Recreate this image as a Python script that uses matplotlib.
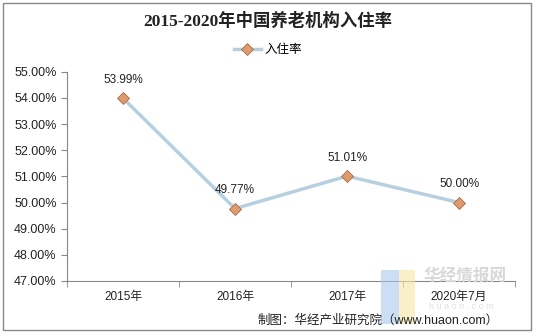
import matplotlib
matplotlib.use("Agg")
import matplotlib.pyplot as plt
from matplotlib.patches import Rectangle
from matplotlib.ticker import FuncFormatter, FixedLocator

plt.rcParams['font.family'] = ['Liberation Sans', 'Noto Sans CJK SC']

# 数据
categories = ['2015年', '2016年', '2017年', '2020年7月']
rates = [53.99, 49.77, 51.01, 50.00]
labels = ['53.99%', '49.77%', '51.01%', '50.00%']

fig = plt.figure(figsize=(5.36, 3.36), dpi=100)
ax = fig.add_axes([0.125, 0.1637, 0.836, 0.6226])

x = list(range(len(categories)))
ax.plot(x, rates, color='#b7d0e0', linewidth=2.5, marker='D', markersize=6,
        markerfacecolor='#de9c6e', markeredgecolor='#a86a45', markeredgewidth=0.6,
        label='入住率', zorder=3)

for xi, v, t in zip(x, rates, labels):
    ax.annotate(t, (xi, v), xytext=(0, 9), textcoords='offset points',
                ha='center', va='bottom', fontsize=8.5, color='#222222')

ax.set_xlim(-0.5, len(categories) - 0.5)
ax.set_ylim(47, 55)
ax.set_yticks([47 + i for i in range(9)])
ax.yaxis.set_major_formatter(FuncFormatter(lambda v, p: f'{v:.2f}%'))
ax.set_xticks(x)
ax.set_xticklabels(categories)
ax.xaxis.set_minor_locator(FixedLocator([i - 0.5 for i in range(len(categories) + 1)]))
ax.tick_params(axis='x', which='major', length=0, pad=7, labelsize=8.5, colors='#222222')
ax.tick_params(axis='x', which='minor', length=4, color='#888888')
ax.tick_params(axis='y', length=4, color='#888888', labelsize=9, colors='#222222')
for s in ['top', 'right']:
    ax.spines[s].set_visible(False)
for s in ['left', 'bottom']:
    ax.spines[s].set_color('#888888')
    ax.spines[s].set_linewidth(0.8)

fig.text(0.5, 0.935, '2015-2020年中国养老机构入住率', ha='center', va='center',
         fontsize=12.5, fontweight='bold', family=['Liberation Serif', 'Noto Sans CJK SC'],
         color='#222222')
fig.legend(loc='center', bbox_to_anchor=(0.5, 0.85), frameon=False, fontsize=9,
           handlelength=2.2, handletextpad=0.3)

# 水印
fig.patches.append(Rectangle((0.71, 0.035), 0.035, 0.16, transform=fig.transFigure,
                             facecolor='#a9c8ee', edgecolor='none', alpha=0.6, zorder=0))
fig.patches.append(Rectangle((0.745, 0.035), 0.03, 0.16, transform=fig.transFigure,
                             facecolor='#f6e6a8', edgecolor='none', alpha=0.6, zorder=0))
fig.text(0.79, 0.175, '华经情报网', fontsize=12, color='#d8d8d8', fontweight='bold',
         ha='left', va='center', zorder=0)
fig.text(0.8, 0.088, 'h u a o n . c o m', fontsize=6.5, color='#e0e0e0', ha='left',
         va='center', zorder=0)

fig.text(0.93, 0.045, '制图：华经产业研究院（www.huaon.com）', ha='right', va='center',
         fontsize=9, color='#222222')

fig.patches.append(Rectangle((0.006, 0.018), 0.985, 0.972, transform=fig.transFigure,
                             facecolor='none', edgecolor='#888888', linewidth=1))

fig.savefig('out.png', dpi=100)
